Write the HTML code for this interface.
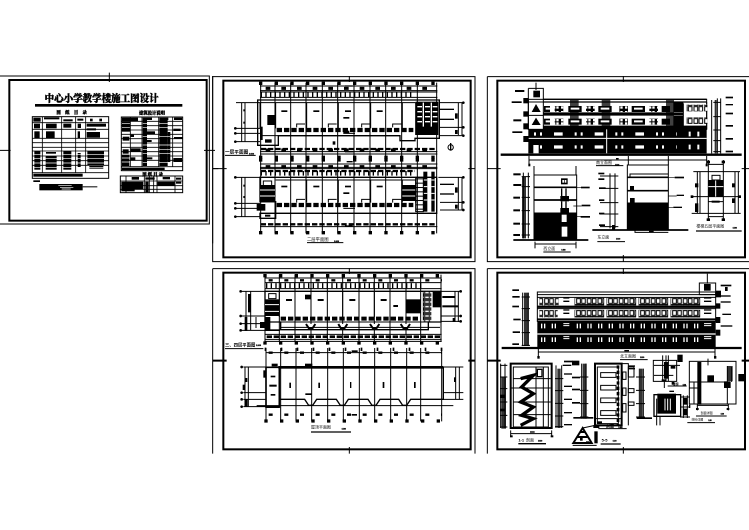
<!DOCTYPE html>
<html lang="zh"><head><meta charset="utf-8"><title>中心小学教学楼施工图设计</title>
<style>
html,body{margin:0;padding:0;background:#fff}
svg{display:block}
text{font-family:"Liberation Sans","Noto Sans CJK SC",sans-serif;fill:#000}
.t{font-family:"Liberation Serif","Noto Serif CJK SC",serif;font-weight:900}
</style></head><body>
<svg xmlns="http://www.w3.org/2000/svg" width="749" height="530" viewBox="0 0 749 530">
<rect width="749" height="530" fill="#fff"/>
<defs>
<pattern id="w1" width="24" height="24" patternUnits="userSpaceOnUse"><rect width="24" height="24" fill="#000"/><rect x="3" y="3" width="7" height="7" fill="#fff"/><rect x="13" y="3" width="7" height="7" fill="#fff"/><rect x="3" y="13" width="7" height="7" fill="#fff"/><rect x="13" y="13" width="7" height="7" fill="#fff"/></pattern>
<pattern id="s1" width="14" height="14" patternUnits="userSpaceOnUse"><rect width="14" height="14" fill="#000"/><rect x="2" y="6" width="10" height="4" fill="#fff"/></pattern>
<pattern id="r1" width="20" height="13" patternUnits="userSpaceOnUse"><rect width="20" height="3" fill="#000"/><rect width="2" height="13" fill="#000"/></pattern>
<pattern id="w2" width="32" height="18" patternUnits="userSpaceOnUse"><rect x="2" y="2" width="11" height="14" fill="#fff" stroke="#000" stroke-width="3"/><rect x="17" y="2" width="11" height="14" fill="#fff" stroke="#000" stroke-width="3"/></pattern>
</defs>

<!-- SHEET 1 -->
<g transform="translate(0,70) scale(.33333)" fill="none" stroke="#000">
<path stroke-width="3" d="M-3 18H628V462H-3M628 18V462M328 8V36M0 241H32M612 241H645M638 18V520M638 296H655"/>
<rect x="28" y="30" width="592" height="422" stroke-width="6"/>
<text x="305" y="96" text-anchor="middle" class="t" font-size="31" stroke="#000" stroke-width="1.2" textLength="342" lengthAdjust="spacingAndGlyphs">中心小学教学楼施工图设计</text>
<rect x="105" y="102" width="442" height="8" fill="#000" stroke="none"/>
<text x="215" y="132" text-anchor="middle" class="t" font-size="13" stroke="#000">图　纸　目　录</text>
<text x="456" y="134" text-anchor="middle" class="t" font-size="13" stroke="#000">建筑设计说明</text>
<text x="458" y="318" text-anchor="middle" class="t" font-size="13" stroke="#000">图 纸 目 录</text>
<!-- left table -->
<g fill="#000" stroke="none">
<rect x="100" y="143" width="22" height="12"/><rect x="132" y="142" width="46" height="6"/><rect x="190" y="148" width="28" height="6"/><rect x="232" y="146" width="18" height="6"/><rect x="270" y="146" width="8" height="8"/><rect x="298" y="146" width="8" height="8"/>
<rect x="102" y="161" width="18" height="14"/><rect x="138" y="161" width="32" height="14"/><rect x="190" y="161" width="24" height="12"/><rect x="233" y="161" width="10" height="13"/><rect x="260" y="161" width="58" height="9"/><rect x="260" y="175" width="28" height="6"/>
<rect x="103" y="184" width="16" height="20"/><rect x="138" y="184" width="26" height="20"/><rect x="233" y="184" width="7" height="20"/><rect x="260" y="186" width="40" height="17"/>
<rect x="103" y="243" width="18" height="56"/><rect x="138" y="246" width="30" height="5"/><rect x="137" y="258" width="33" height="41"/><rect x="190" y="243" width="24" height="56"/><rect x="233" y="249" width="9" height="42"/><rect x="262" y="243" width="50" height="42"/><rect x="268" y="288" width="42" height="8"/>
<rect x="100" y="311" width="148" height="9"/>
<rect x="100" y="331" width="20" height="5"/><rect x="118" y="342" width="130" height="19"/><rect x="248" y="349" width="44" height="3"/>
</g>
<path stroke="#fff" stroke-width="2" d="M100 254H320M100 265H320M100 279H320M100 292H320M175 346H215M180 352H220M185 357H212"/>
<rect x="97" y="140" width="229" height="185" stroke-width="3"/>
<path stroke-width="2.5" d="M127 140V308M185 140V308M227 140V308M257 140V308M97 158H326M97 178H326M97 205H326M97 218H326M97 232H326M97 243H326M97 258H326M97 272H326M97 286H326M97 308H326"/>
<!-- right table -->
<g fill="#000" stroke="none">
<rect x="366" y="143" width="48" height="11"/><rect x="428" y="143" width="28" height="7"/><rect x="478" y="143" width="27" height="7"/><rect x="522" y="143" width="24" height="7"/>
<rect x="366" y="155" width="24" height="30"/><rect x="368" y="200" width="20" height="12"/><rect x="368" y="238" width="18" height="13"/><rect x="366" y="254" width="22" height="34"/>
<rect x="428" y="150" width="13" height="138"/><rect x="441" y="184" width="24" height="8"/><rect x="441" y="210" width="14" height="6"/><rect x="441" y="262" width="16" height="6"/>
<rect x="478" y="150" width="25" height="138"/><rect x="503" y="186" width="8" height="90"/>
<rect x="520" y="176" width="22" height="7"/><rect x="522" y="201" width="26" height="6"/><rect x="520" y="264" width="26" height="12"/>
<rect x="392" y="194" width="10" height="7"/><rect x="392" y="235" width="30" height="10"/><rect x="392" y="262" width="14" height="10"/>
<rect x="366" y="293" width="128" height="7"/>
</g>
<path stroke="#fff" stroke-width="2" d="M366 160H390M366 173H390M366 264H390M366 276H390M428 160H511M428 173H511M428 199H511M428 225H511M428 238H511M428 251H511M428 278H511"/>
<rect x="364" y="141" width="184" height="161" stroke-width="3"/>
<path stroke-width="2.5" d="M391 141V290M426 141V290M476 141V290M518 141V290M364 154H548M364 167H548M364 180H548M364 193H548M364 206H548M364 219H548M364 232H548M364 245H548M364 258H548M364 271H548M364 290H548"/>
<!-- lower right -->
<g fill="#000" stroke="none">
<rect x="395" y="321" width="22" height="8"/><rect x="436" y="322" width="28" height="7"/><rect x="488" y="321" width="22" height="7"/><rect x="528" y="323" width="16" height="6"/>
<rect x="364" y="335" width="66" height="22"/><rect x="364" y="358" width="40" height="6"/><rect x="436" y="335" width="10" height="32"/><rect x="472" y="335" width="52" height="12"/><rect x="528" y="335" width="16" height="6"/>
</g>
<rect x="361" y="318" width="187" height="50" stroke-width="3"/>
<path stroke-width="2.5" d="M378 318V368M433 318V368M448 318V368M461 318V368M471 318V368M525 318V368M361 333H548M361 347H548M361 358H548"/>
</g>

<!-- SHEET 2 -->
<g transform="translate(210,70) scale(.33333)" fill="none" stroke="#000">
<path stroke-width="3" d="M8 20H795V575H8ZM418 18V36M8 296H50M775 296H795"/>
<rect x="40" y="32" width="742" height="530" stroke-width="6"/>
<path stroke-width="3" d="M152 38V490M195 38V490M242 38V490M288 38V490M337 38V490M383 38V490M432 38V490M480 38V490M527 38V490M575 38V490M622 38V490M680 38V490"/>
<g stroke-width="10">
<path stroke-dasharray="10 37" d="M147 40H684M147 262H684M147 488H684"/>
<path stroke-dasharray="10 37" d="M147 270H684"/>
</g>
<path stroke-width="3" d="M150 48H682M150 62H682M150 66H682M150 82H682M150 292H682M150 296H682"/>
<path stroke-width="9" stroke-dasharray="14 33" d="M167 55H684"/>
<path stroke-width="17" stroke-dasharray="4 10" d="M152 73H612"/>
<path stroke-width="7" stroke-dasharray="16 6" d="M152 237H680M152 463H680M152 303H615"/>
<path stroke-width="3" d="M150 245H682M150 252H682M150 470H682M150 282H682"/>
<path stroke-width="14" stroke-dasharray="4 10" d="M152 310H612"/>
<path stroke-width="9" stroke-dasharray="14 33" d="M167 290H684M167 240H684"/>
<path stroke-width="4" d="M405 48H428M410 275H428M405 245H430M405 468H428"/>
<!-- plan 1 -->
<path stroke-width="4" d="M143 90H688V205H615V212H570V197H205V226H143Z"/>
<path stroke-width="3" d="M150 98H617M150 98V175M197 98V175M290 98V175M385 98V175M482 98V175M577 98V175M617 98V195M150 197H570"/>
<path stroke-width="13" stroke-dasharray="16 6" d="M200 180H610"/>
<path stroke-width="3" d="M260 172V162H285M355 172V162H380M455 172V162H480M548 172V162H575M400 190H435"/>
<g fill="#000" stroke="none">
<rect x="617" y="95" width="68" height="100"/><rect x="172" y="135" width="22" height="30"/><rect x="150" y="170" width="8" height="40"/>
<rect x="214" y="121" width="18" height="5"/><rect x="310" y="121" width="18" height="5"/><rect x="405" y="121" width="18" height="5"/><rect x="400" y="141" width="18" height="5"/><rect x="500" y="121" width="18" height="5"/><rect x="368" y="214" width="8" height="10"/>
<rect x="165" y="208" width="20" height="10"/><rect x="400" y="182" width="18" height="8"/>
</g>
<path stroke="#fff" stroke-width="4" d="M640 98V170M664 98V170M622 110H636M622 125H636M622 140H636M622 155H636M645 110H660M645 125H660M645 140H660M645 155H660M668 110H682M668 125H682M668 140H682M668 155H682"/>
<!-- plan 2 -->
<path stroke-width="4" d="M150 322H680V430H150V445H197V395H150Z"/>
<path stroke-width="3" d="M197 330H617V398M290 330V398M385 330V398M482 330V398M577 330V398M150 430H680"/>
<path stroke-width="13" stroke-dasharray="16 6" d="M200 405H610"/>
<path stroke-width="3" d="M260 398V388H285M355 398V388H380M455 398V388H480M548 398V388H575M400 415H435"/>
<g fill="#000" stroke="none">
<rect x="150" y="345" width="45" height="52"/><rect x="575" y="345" width="42" height="48"/>
<rect x="214" y="347" width="18" height="5"/><rect x="310" y="347" width="18" height="5"/><rect x="405" y="347" width="18" height="5"/><rect x="400" y="367" width="18" height="5"/><rect x="500" y="347" width="18" height="5"/>
<rect x="140" y="402" width="26" height="20"/><rect x="165" y="434" width="16" height="6"/>
<rect x="640" y="305" width="12" height="120"/><rect x="664" y="305" width="10" height="120"/>
</g>
<path stroke="#fff" stroke-width="3" d="M150 360H195M150 378H195M577 360H617M577 378H617M640 330H652M640 350H652M640 370H652M640 390H652M664 330H674M664 350H674M664 370H674M664 390H674"/>
<path stroke-width="3" fill="url(#r1)" d="M617 322H640V425H617Z"/>
<path stroke="#000" stroke-width="3" fill="none" d="M160 345V333H185V345"/>
<path stroke-width="3" d="M95 98V216M105 98V216M78 175H150M78 190H150M78 215H150M78 98H150M95 322V440M105 322V440M78 322H150M78 400H150M78 415H150M78 440H150M745 98V195M756 98V195M690 98H762M690 172H762M690 197H762M745 322V420M756 322V420M685 322H762M690 397H762M690 420H762"/>
<g fill="#000" stroke="none">
<rect x="100" y="118" width="6" height="6"/><rect x="100" y="155" width="6" height="6"/><rect x="100" y="344" width="6" height="6"/><rect x="100" y="378" width="6" height="6"/>
<rect x="735" y="130" width="8" height="16"/><rect x="735" y="180" width="8" height="12"/><rect x="735" y="352" width="8" height="16"/><rect x="735" y="404" width="8" height="12"/>
<rect x="690" y="116" width="42" height="4"/><rect x="690" y="146" width="42" height="4"/><rect x="690" y="341" width="42" height="4"/><rect x="690" y="370" width="42" height="4"/>
<circle cx="76" cy="175" r="4"/><circle cx="76" cy="190" r="4"/><circle cx="76" cy="215" r="4"/><circle cx="76" cy="322" r="4"/><circle cx="76" cy="400" r="4"/><circle cx="76" cy="415" r="4"/><circle cx="76" cy="440" r="4"/>
<circle cx="760" cy="98" r="4"/><circle cx="760" cy="172" r="4"/><circle cx="760" cy="197" r="4"/><circle cx="760" cy="322" r="4"/><circle cx="760" cy="397" r="4"/><circle cx="760" cy="420" r="4"/>
</g>
<circle cx="722" cy="232" r="8" stroke-width="3"/><path stroke-width="4" d="M722 219V242"/>
<text x="45" y="251" font-size="14" fill="#000" stroke="none" font-weight="700">一层平面图</text>
<path stroke-width="3" d="M45 256H137"/><text x="117" y="254" font-size="6" stroke="#000">1:100</text>
<text x="291" y="513" font-size="13" stroke="none">二层平面图</text><text x="372" y="516" font-size="6" stroke="#000">1:100</text>
<path stroke-width="3" d="M291 518H400"/>
</g>

<!-- SHEET 3 -->
<g transform="translate(480,70) scale(.33333)" fill="none" stroke="#000">
<path stroke-width="3" d="M22 20H810M22 20V575H810M430 18V36M430 555V575M22 296H62M785 296H810"/>
<rect x="52" y="32" width="743" height="530" stroke-width="6"/>
<rect x="145" y="178" width="535" height="72" fill="#000" stroke="none"/>
<path stroke="#fff" stroke-width="3" d="M145 205H680"/>
<rect x="145" y="88" width="535" height="90" stroke-width="3"/>
<path stroke-width="4" d="M190 88H680M190 96H680"/>
<path stroke-width="10" d="M190 132H610M190 172H680"/>
<path stroke="#000" stroke-width="3" d="M610 100V178M680 96V178"/>
<rect x="580" y="96" width="30" height="30" fill="#000" stroke="none"/><rect x="580" y="138" width="30" height="30" fill="#000" stroke="none"/>
<g fill="#000" stroke="none">
<rect x="192" y="108" width="18" height="18"/><rect x="265" y="108" width="40" height="18"/><rect x="355" y="108" width="40" height="18"/><rect x="455" y="108" width="40" height="18"/><rect x="545" y="108" width="25" height="18"/>
<rect x="192" y="146" width="18" height="18"/><rect x="265" y="146" width="40" height="18"/><rect x="355" y="146" width="40" height="18"/><rect x="455" y="146" width="40" height="18"/><rect x="545" y="146" width="25" height="18"/>
<rect x="270" y="88" width="26" height="84" opacity=".75"/><rect x="365" y="88" width="26" height="84" opacity=".75"/><rect x="558" y="88" width="24" height="84" opacity=".75"/>
</g>
<path stroke="#fff" stroke-width="6" d="M197 116H210M272 116H298M362 116H388M462 116H488M197 154H210M272 154H298M362 154H388M462 154H488"/>
<rect x="224" y="108" width="26" height="18" fill="url(#w1)" stroke="none"/><rect x="318" y="108" width="26" height="18" fill="url(#w1)" stroke="none"/><rect x="418" y="108" width="26" height="18" fill="url(#w1)" stroke="none"/><rect x="508" y="108" width="26" height="18" fill="url(#w1)" stroke="none"/>
<rect x="224" y="146" width="26" height="18" fill="url(#w1)" stroke="none"/><rect x="318" y="146" width="26" height="18" fill="url(#w1)" stroke="none"/><rect x="418" y="146" width="26" height="18" fill="url(#w1)" stroke="none"/><rect x="508" y="146" width="26" height="18" fill="url(#w1)" stroke="none"/>
<rect x="620" y="104" width="62" height="20" fill="url(#w2)" stroke="none"/><rect x="620" y="142" width="62" height="20" fill="url(#w2)" stroke="none"/>
<path stroke="#fff" stroke-width="10" stroke-dasharray="6 12 6 36 26 36" d="M162 192H590M162 231H590"/>
<path stroke="#fff" stroke-width="14" stroke-dasharray="6 20" d="M626 192H676M626 231H676"/>
<path stroke="#fff" stroke-width="3" d="M380 178V250"/>
<rect x="160" y="225" width="16" height="25" fill="#fff" stroke="none"/>
<path stroke-width="3" d="M145 55H190V178M145 55V178M145 96H190M145 136H190M168 38V60"/>
<rect x="160" y="62" width="20" height="20" fill="#000" stroke="none"/>
<path fill="#000" stroke="none" d="M168 102L182 126H155ZM168 143L182 165H155Z"/>
<g fill="#000" stroke="none"><rect x="130" y="84" width="16" height="16"/><rect x="130" y="124" width="16" height="16"/><rect x="130" y="160" width="16" height="18"/><rect x="130" y="198" width="16" height="18"/>
<rect x="105" y="60" width="28" height="6"/><rect x="95" y="94" width="30" height="5"/><rect x="100" y="148" width="24" height="6"/><rect x="97" y="184" width="30" height="5"/></g>
<path stroke-width="7" d="M62 254H785"/>
<path stroke-width="3" d="M147 258V285M680 258V285M147 270H680M445 258V285M565 258V285"/>
<path stroke-width="3" d="M695 90V250M712 85V250M722 85V250M700 97H722M700 140H722M700 180H722M700 212H722M700 245H722"/>
<g fill="#000" stroke="none"><rect x="704" y="90" width="6" height="160" opacity=".8"/><rect x="737" y="80" width="22" height="5"/><rect x="737" y="102" width="22" height="4"/><rect x="737" y="128" width="22" height="5"/><rect x="737" y="165" width="22" height="5"/><rect x="737" y="204" width="22" height="5"/><rect x="737" y="242" width="22" height="5"/>
<rect x="145" y="281" width="6" height="8"/><rect x="677" y="281" width="6" height="8"/><rect x="408" y="264" width="8" height="4"/></g>
<text x="348" y="282" font-size="12" stroke="none">南立面图</text><text x="405" y="286" font-size="5" stroke="#000">1:100</text><path stroke-width="3" d="M348 287H430"/>
<rect x="162" y="315" width="128" height="195" stroke-width="3"/>
<rect x="162" y="432" width="128" height="78" fill="#000" stroke="none"/>
<path stroke-width="5" d="M162 352H290M162 390H290M162 430H290"/>
<path stroke-width="3" d="M162 288V315M288 288V315M165 515V535M288 515V535M165 522H288"/>
<rect x="243" y="325" width="20" height="18" fill="#000" stroke="none"/><rect x="247" y="330" width="5" height="8" fill="#fff" stroke="none"/><rect x="254" y="330" width="5" height="8" fill="#fff" stroke="none"/>
<rect x="241" y="378" width="26" height="16" fill="#000" stroke="none"/><rect x="241" y="414" width="26" height="18" fill="#000" stroke="none"/>
<path stroke-width="4" d="M245 355V378M258 355V378M245 394V414M258 394V414M245 432V455M258 432V455"/>
<rect x="245" y="470" width="17" height="30" fill="#fff" stroke="none"/><rect x="245" y="434" width="15" height="22" fill="#fff" stroke="none"/>
<path stroke-width="3" d="M130 308V505M145 308V505M125 320H150M125 350H150M125 382H150M125 422H150M125 462H150M125 495H150"/>
<g fill="#000" stroke="none"><rect x="126" y="320" width="12" height="185" opacity=".8"/><rect x="100" y="310" width="22" height="6"/><rect x="100" y="342" width="24" height="6"/><rect x="100" y="380" width="20" height="6"/><rect x="100" y="418" width="20" height="6"/><rect x="100" y="458" width="20" height="6"/><rect x="100" y="492" width="20" height="6"/>
<rect x="303" y="350" width="26" height="5"/><rect x="305" y="404" width="26" height="5"/><rect x="302" y="438" width="28" height="5"/></g>
<path stroke-width="5" d="M100 510H325"/>
<path stroke-width="2" d="M267 352H303M280 408H305M290 440H303"/>
<text x="190" y="540" font-size="12" stroke="none">西立面</text><text x="244" y="542" font-size="5" stroke="#000">1:100</text><path stroke-width="3" d="M190 546H272"/>
<rect x="442" y="285" width="123" height="195" stroke-width="3"/>
<rect x="442" y="402" width="123" height="78" fill="#000" stroke="none"/>
<path stroke-width="5" d="M442 322H565M442 362H565M442 400H565"/>
<path stroke-width="3" d="M450 322V312H565M465 480V487H565"/>
<rect x="450" y="348" width="12" height="14" fill="#000" stroke="none"/><rect x="450" y="384" width="14" height="18" fill="#000" stroke="none"/>
<path stroke-width="3" d="M390 310V475M405 310V475M360 318H415M360 355H415M360 398H415M360 432H415M360 470H415"/>
<g fill="#000" stroke="none"><rect x="355" y="308" width="18" height="5"/><rect x="355" y="325" width="18" height="5"/><rect x="357" y="352" width="20" height="5"/><rect x="357" y="388" width="16" height="5"/><rect x="357" y="428" width="16" height="5"/><rect x="357" y="463" width="18" height="5"/><rect x="396" y="465" width="9" height="14"/>
<rect x="584" y="320" width="28" height="5"/><rect x="590" y="374" width="22" height="4"/><rect x="580" y="410" width="26" height="4"/><rect x="507" y="482" width="14" height="4"/></g>
<path stroke-width="2" d="M565 322H584M565 378H590M565 412H580"/>
<path stroke-width="5" d="M337 480H625"/>
<text x="352" y="505" font-size="12" stroke="none">东立面</text><text x="408" y="509" font-size="5" stroke="#000">1:100</text><path stroke-width="3" d="M352 515H435"/>
<path stroke-width="3" d="M640 305H780M652 305V430M660 305V430M685 270V450M730 270V450M765 305V430M775 305V430M635 380H782M635 430H782M685 283H730M685 440H730M685 305V395H730V305"/>
<rect x="685" y="330" width="45" height="50" fill="#000" stroke="none"/>
<path stroke="#fff" stroke-width="3" d="M707 330V380M685 350H730"/>
<rect x="696" y="316" width="24" height="14" fill="#fff" stroke-width="3"/>
<g fill="#000" stroke="none"><rect x="645" y="340" width="10" height="12"/><rect x="645" y="400" width="10" height="26"/><rect x="756" y="340" width="8" height="12"/><rect x="756" y="385" width="8" height="14"/><rect x="695" y="392" width="24" height="6"/><rect x="680" y="272" width="10" height="8"/><rect x="725" y="272" width="10" height="8"/><rect x="680" y="445" width="10" height="8"/><rect x="725" y="445" width="10" height="8"/><rect x="632" y="376" width="8" height="8"/><rect x="775" y="376" width="8" height="8"/></g>
<text x="649" y="473" font-size="12" stroke="none">楼梯五层平面图</text><text x="758" y="476" font-size="5" stroke="#000">1:100</text><path stroke-width="4" d="M648 483H785"/>
</g>

<!-- SHEET 4 -->
<g transform="translate(210,262) scale(.33333)" fill="none" stroke="#000">
<path stroke-width="3" d="M8 20H795V575M8 20V575M418 18V36M418 555V575"/>
<path stroke-width="6" d="M8 296H50M775 296H795"/>
<rect x="40" y="32" width="742" height="530" stroke-width="6"/>
<path stroke-width="3" d="M165 38V240M208 38V240M255 38V240M303 38V240M352 38V240M398 38V240M447 38V240M493 38V240M540 38V240M588 38V240M632 38V240M693 38V240M168 258V478M212 258V478M258 258V478M305 258V478M353 258V478M400 258V478M448 258V478M494 258V478M542 258V478M590 258V478M632 258V478M695 258V478"/>
<g stroke-width="10">
<path stroke-dasharray="10 37" d="M160 41H698M160 243H698M163 477H700"/>
<path stroke-dasharray="5 43" d="M164 262H700"/>
</g>
<path stroke-width="3" d="M165 48H695M165 62H695M165 80H695M165 217H695M165 232H695M165 238H695M168 272H695"/>
<path stroke-width="7" stroke-dasharray="12 35" d="M176 55H696M176 272H696M176 458H696"/>
<path stroke-width="15" stroke-dasharray="4 10" d="M168 71H640"/>
<path stroke-width="8" stroke-dasharray="16 5" d="M170 224H692"/>
<path stroke-width="4" d="M165 88H693V180H655V203H212V180H165Z"/>
<path stroke-width="3" d="M208 88V165M303 88V165M398 88V165M493 88V165M588 88V165M640 88V175M165 205H210M210 180H690M210 196H690"/>
<path stroke-width="12" stroke-dasharray="16 6" d="M212 170H630"/>
<path fill="#fff" stroke-width="6" d="M288 186L296 198H308L316 186M385 186L392 198H404L412 186M480 186L488 198H500L508 186M572 186L580 198H592L600 186"/>
<g fill="#000" stroke="none">
<rect x="165" y="112" width="42" height="50"/><rect x="588" y="112" width="45" height="42"/><rect x="165" y="165" width="16" height="42"/><rect x="150" y="180" width="16" height="18"/><rect x="165" y="202" width="45" height="5"/>
<rect x="228" y="111" width="18" height="6"/><rect x="323" y="111" width="18" height="6"/><rect x="418" y="111" width="18" height="6"/><rect x="512" y="111" width="18" height="6"/><rect x="550" y="129" width="14" height="6"/><rect x="285" y="98" width="18" height="14"/>
<rect x="668" y="88" width="25" height="48"/><rect x="697" y="102" width="38" height="6"/><rect x="697" y="130" width="48" height="6"/>
</g>
<path stroke-width="3" d="M176 95H198V110H176Z"/><path stroke="#fff" stroke-width="3" d="M165 128H207M165 148H207"/>
<rect x="640" y="88" width="24" height="92" fill="url(#s1)" stroke="none" opacity=".8"/>
<path stroke-width="3" d="M108 88V205M122 88V205M90 88H165M90 162H165M90 185H165M90 205H165M138 165V198M735 88V180M745 88V180M693 88H755M693 162H755M693 178H755"/>
<g fill="#000" stroke="none"><rect x="114" y="96" width="8" height="55"/><rect x="104" y="165" width="8" height="42"/><rect x="728" y="168" width="7" height="12"/><circle cx="92" cy="88" r="4"/><circle cx="92" cy="162" r="4"/><circle cx="92" cy="185" r="4"/><circle cx="92" cy="205" r="4"/><circle cx="752" cy="88" r="4"/><circle cx="752" cy="162" r="4"/><circle cx="752" cy="178" r="4"/></g>
<text x="45" y="254" font-size="13" stroke="none" font-weight="700">三、四层平面图</text><text x="138" y="252" font-size="6" stroke="#000">1:100</text><path stroke-width="3" d="M45 260H160"/>
<path stroke-width="4" d="M205 316H700V412H602L590 430H578L566 412H510L498 430H486L474 412H415L403 430H391L379 412H320L308 430H296L284 412H210"/>
<path stroke-width="5" d="M168 316H208V435H168Z"/>
<path stroke-width="3" d="M140 431H730M100 315H168M100 392H168M100 412H168M100 434H168M105 315V435M115 315V435M700 315H760M700 392H760M700 412H760M737 315V412M748 315V412"/>
<g fill="#000" stroke="none">
<rect x="205" y="312" width="495" height="8"/><rect x="285" y="305" width="22" height="10"/><rect x="185" y="305" width="18" height="8"/><rect x="160" y="325" width="8" height="22"/>
<rect x="182" y="341" width="14" height="5"/><rect x="178" y="368" width="22" height="6"/><rect x="182" y="396" width="14" height="5"/><rect x="286" y="394" width="20" height="5"/>
<rect x="238" y="362" width="5" height="16"/><rect x="325" y="362" width="5" height="16"/><rect x="420" y="360" width="4" height="18"/><rect x="518" y="360" width="5" height="18"/><rect x="612" y="360" width="5" height="18"/>
<rect x="104" y="348" width="8" height="12"/><rect x="98" y="368" width="7" height="16"/><rect x="104" y="412" width="9" height="22"/><rect x="732" y="346" width="5" height="14"/>
<rect x="168" y="432" width="40" height="6"/><rect x="425" y="265" width="18" height="5"/><rect x="425" y="456" width="16" height="5"/><circle cx="95" cy="315" r="4"/><circle cx="95" cy="392" r="4"/><circle cx="95" cy="412" r="4"/><circle cx="95" cy="434" r="4"/></g>
<text x="303" y="500" font-size="12" stroke="none">屋顶平面图</text><text x="395" y="503" font-size="5" stroke="#000">1:100</text><path stroke-width="4" d="M303 510H423"/>
</g>

<!-- SHEET 5 -->
<g transform="translate(480,262) scale(.33333)" fill="none" stroke="#000">
<path stroke-width="3" d="M22 20H810M22 20V575M430 18V36M430 555V575"/>
<path stroke-width="6" d="M22 296H62M785 296H810"/>
<rect x="52" y="32" width="743" height="530" stroke-width="6"/>
<rect x="172" y="178" width="535" height="78" fill="#000" stroke="none"/>
<path stroke="#fff" stroke-width="4" d="M172 216H720"/>
<rect x="172" y="90" width="535" height="88" stroke-width="3"/>
<path stroke-width="3" d="M172 98H707M172 106H707M172 136H707M172 140H707"/>
<path stroke-width="6" d="M172 172H707M172 134H707"/>
<path stroke-width="3" d="M658 63H707V98H658ZM682 35V65"/>
<rect x="672" y="66" width="20" height="20" fill="#000" stroke="none"/>
<rect x="178" y="108" width="58" height="22" fill="url(#w2)" stroke="none"/><rect x="178" y="144" width="55" height="22" fill="url(#w2)" stroke="none"/>
<rect x="284" y="108" width="88" height="22" fill="url(#w2)"/><rect x="380" y="108" width="88" height="22" fill="url(#w2)"/><rect x="476" y="108" width="88" height="22" fill="url(#w2)"/><rect x="572" y="108" width="88" height="22" fill="url(#w2)"/>
<rect x="284" y="144" width="88" height="22" fill="url(#w2)"/><rect x="380" y="144" width="88" height="22" fill="url(#w2)"/><rect x="476" y="144" width="88" height="22" fill="url(#w2)"/><rect x="572" y="144" width="88" height="22" fill="url(#w2)"/>
<path stroke-width="3" d="M284 128H372M380 128H468M476 128H564M572 128H660M284 164H372M380 164H468M476 164H564M572 164H660"/>
<path stroke-width="4" d="M250 108H268M250 118H268M250 144H268M250 154H268M672 108H694M672 118H694M672 144H694M672 154H694"/>
<path stroke="#fff" stroke-width="14" stroke-dasharray="4 5 4 19" d="M183 192H235M183 233H235M290 192H660M290 233H660"/>
<path stroke="#fff" stroke-width="3" d="M250 185H268M250 191H268M250 224H268M250 230H268M672 185H694M672 191H694M672 224H694M672 230H694"/>
<g fill="#000" stroke="none"><rect x="707" y="86" width="16" height="20"/><rect x="707" y="124" width="14" height="16"/><rect x="707" y="165" width="14" height="18"/><rect x="707" y="203" width="14" height="18"/><rect x="722" y="68" width="32" height="5"/><rect x="735" y="75" width="8" height="12"/><rect x="722" y="100" width="30" height="4"/><rect x="722" y="118" width="30" height="4"/><rect x="727" y="155" width="26" height="4"/><rect x="722" y="190" width="35" height="4"/></g>
<path stroke-width="7" d="M65 258H785"/>
<path stroke-width="3" d="M175 260V285M705 260V285M175 270H705M128 92V252M145 92V252M125 105H150M125 140H150M125 176H150M125 212H150M125 250H150"/>
<g fill="#000" stroke="none"><rect x="132" y="92" width="12" height="160" opacity=".8"/><rect x="97" y="82" width="20" height="5"/><rect x="97" y="102" width="22" height="5"/><rect x="97" y="131" width="20" height="5"/><rect x="100" y="170" width="22" height="5"/><rect x="98" y="208" width="22" height="5"/><rect x="97" y="244" width="20" height="5"/><rect x="172" y="282" width="7" height="8"/><rect x="702" y="282" width="7" height="8"/><rect x="433" y="264" width="14" height="4"/></g>
<text x="420" y="287" font-size="12" stroke="none">北立面图</text><text x="480" y="288" font-size="5" stroke="#000">1:100</text><path stroke-width="3" d="M420 293H503"/>
<path stroke-width="6" d="M92 305H215V498H92Z"/>
<path stroke-width="3" d="M100 315H205V495H100ZM168 315V495M190 315V495M100 350H212M100 420H212M100 458H212M92 378H212"/>
<path stroke-width="10" fill="none" d="M122 350L160 340L125 375L160 395L122 420L160 435L125 460L160 470L122 490"/>
<rect x="172" y="322" width="14" height="22" fill="#fff" stroke-width="4"/>
<path stroke-width="3" d="M62 305V498M75 305V498M60 310H82M60 345H82M60 380H82M60 420H82M60 460H82M60 495H82M92 505V525M215 505V525M92 515H215"/>
<g fill="#000" stroke="none"><rect x="64" y="345" width="14" height="155" opacity=".8"/><rect x="60" y="398" width="16" height="10"/><rect x="60" y="440" width="16" height="8"/><rect x="90" y="520" width="8" height="6"/><rect x="212" y="520" width="8" height="6"/><rect x="150" y="508" width="14" height="4"/></g>
<text x="115" y="538" font-size="12" stroke="none" font-weight="700">1-1</text><text x="138" y="538" font-size="12" stroke="none">剖面</text><text x="174" y="538" font-size="5" stroke="#000">1:100</text><path stroke-width="4" d="M115 545H198"/>
<path stroke-width="3" d="M228 310V498M245 310V498M225 350H250M225 386H250M225 424H250M225 462H250M225 494H250"/>
<g fill="#000" stroke="none"><rect x="232" y="320" width="10" height="178" opacity=".8"/><rect x="252" y="296" width="26" height="5"/><rect x="248" y="308" width="26" height="4"/><rect x="252" y="334" width="24" height="4"/><rect x="252" y="371" width="24" height="4"/><rect x="252" y="410" width="24" height="4"/><rect x="252" y="450" width="24" height="4"/><rect x="252" y="486" width="24" height="4"/></g>
<path stroke-width="3" d="M305 305V470M318 305V470M300 345H325M300 385H325M300 425H325M300 465H325"/>
<g fill="#000" stroke="none"><rect x="308" y="305" width="12" height="165" opacity=".8"/><rect x="276" y="296" width="22" height="14"/><rect x="276" y="344" width="24" height="5"/><rect x="276" y="380" width="24" height="5"/><rect x="276" y="420" width="24" height="5"/><rect x="280" y="465" width="60" height="5"/></g>
<path stroke-width="6" d="M345 305H425V490H345Z"/>
<path stroke-width="3" d="M352 315H415V485H352ZM425 305H445V490"/>
<path stroke-width="3" d="M362 332H408V346H362ZM362 370H408V384H362ZM362 408H408V422H362ZM362 446H408V460H362Z"/>
<path stroke-width="8" stroke-dasharray="10 6" d="M414 310V490"/>
<path stroke-width="3" d="M428 330H438V352H428ZM428 378H438V400H428ZM428 425H438V450H428ZM445 315H462V345H445ZM445 380H462V392H445ZM445 420H462V430H445ZM345 470H425"/>
<path stroke-width="4" d="M445 312H465M445 320H465"/>
<path stroke-width="3" d="M478 320V470M490 320V470M468 345H495M468 385H495M468 425H495M468 465H495"/>
<g fill="#000" stroke="none"><rect x="480" y="320" width="8" height="150" opacity=".8"/><rect x="470" y="466" width="46" height="5"/><rect x="340" y="490" width="18" height="8"/><rect x="352" y="478" width="14" height="8"/></g>
<text x="378" y="497" font-size="12" stroke="none" font-weight="700">剖面</text><text x="415" y="498" font-size="5" stroke="#000">1:100</text>
<path stroke-width="3" d="M355 500H440"/>
<path stroke-width="6" d="M280 543L308 498L335 543ZM293 525H322M302 510H314"/>
<path stroke-width="3" d="M308 498L345 490M278 550H350"/>
<g fill="#000" stroke="none"><rect x="343" y="508" width="10" height="36"/><rect x="300" y="522" width="8" height="14"/><rect x="318" y="538" width="10" height="8"/></g>
<text x="365" y="538" font-size="12" stroke="none" font-weight="700">5-5</text><text x="398" y="538" font-size="6" stroke="#000">1:20</text><path stroke-width="4" d="M362 546H422"/>
<path stroke-width="3" d="M520 295H590V358H520ZM548 280V358M558 280V358M565 280V358M522 310H600M522 340H580"/>
<g fill="#000" stroke="none"><rect x="552" y="300" width="14" height="50"/><rect x="592" y="278" width="16" height="22"/><rect x="572" y="312" width="14" height="8"/><rect x="545" y="352" width="14" height="7"/><rect x="575" y="360" width="8" height="8"/></g>
<path stroke-width="3" d="M553 358V378M563 372H620"/>
<text x="578" y="369" font-size="9" stroke="none" font-weight="700">楼梯</text><text x="608" y="371" font-size="5" stroke="#000">1:20</text>
<rect x="522" y="398" width="80" height="65" stroke-width="4"/>
<rect x="532" y="395" width="56" height="60" fill="#000" stroke="none"/>
<path stroke="#fff" stroke-width="3" d="M555 410V445M563 410V445M571 410V445"/>
<path stroke-width="3" d="M530 410V490M540 465V490M610 400V468M622 400V468M600 405H630M600 435H630M600 465H630"/>
<g fill="#000" stroke="none"><rect x="610" y="408" width="12" height="20"/><rect x="610" y="440" width="12" height="20"/><rect x="568" y="386" width="14" height="4"/><rect x="627" y="428" width="4" height="10"/></g>
<text x="634" y="475" font-size="9" stroke="none">材料详图</text><text x="685" y="477" font-size="5" stroke="#000">1:20</text><path stroke-width="3" d="M622 482H705"/>
<rect x="628" y="298" width="140" height="128" stroke-width="3"/>
<rect x="652" y="300" width="12" height="128" fill="#000" stroke="none"/>
<path stroke-width="3" d="M628 360H740M628 378H660M642 360V425M742 312V425M684 290V310"/>
<rect x="682" y="340" width="20" height="20" fill="#000" stroke="none"/>
<g fill="#000" stroke="none"><rect x="732" y="358" width="20" height="20"/><rect x="742" y="312" width="16" height="45" opacity=".8"/><rect x="775" y="336" width="18" height="22"/><rect x="648" y="438" width="8" height="6"/><rect x="740" y="438" width="8" height="6"/></g>
<path stroke-width="3" d="M652 426V445M745 426V445M652 430H745M755 315V360M768 315V360"/>
<text x="662" y="456" font-size="9" stroke="none">剖面详图</text><text x="722" y="458" font-size="5" stroke="#000">1:20</text><path stroke-width="3" d="M648 462H740"/>
</g>
</svg>
</body></html>
